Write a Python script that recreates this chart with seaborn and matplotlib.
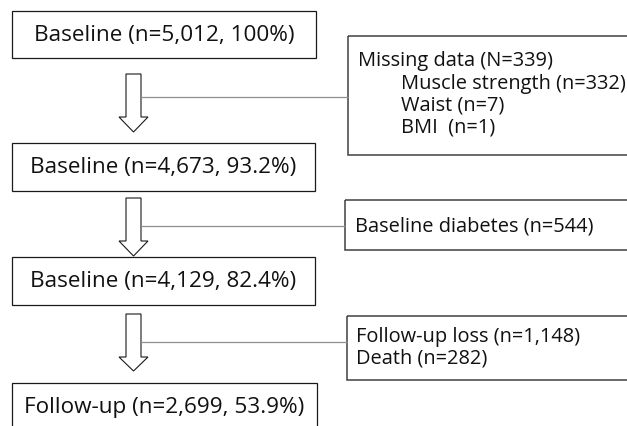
import matplotlib
matplotlib.use("Agg")
import matplotlib.pyplot as plt
from matplotlib.patches import Rectangle, Polygon
import seaborn as sns

# ---- data ----
stage_names = ["Baseline", "Baseline", "Baseline", "Follow-up"]
stage_n = ["5,012", "4,673", "4,129", "2,699"]
stage_pct = ["100%", "93.2%", "82.4%", "53.9%"]

missing_title = "Missing data (N=339)"
missing_items = ["Muscle strength (n=332)", "Waist (n=7)", "BMI  (n=1)"]
diabetes_text = ["Baseline diabetes (n=544)"]
followup_text = ["Follow-up loss (n=1,148)", "Death (n=282)"]

sns.set_theme(style="white")
plt.rcParams['font.family'] = ['Open Sans', 'DejaVu Sans']

W, H = 627, 427
fig = plt.figure(figsize=(W / 100, H / 100), dpi=100)
ax = fig.add_axes([0, 0, 1, 1])
ax.set_xlim(0, W)
ax.set_ylim(H, 0)
ax.axis("off")

main_font = 16.2
side_font = 14.4

# main boxes (left, top, right, bottom)
main_boxes = [(12, 12, 316, 59), (12, 144, 315, 192), (12, 258, 315, 306), (12, 384, 317, 431)]
for (l, t, r, b), nm, n, p in zip(main_boxes, stage_names, stage_n, stage_pct):
    ax.add_patch(Rectangle((l, t), r - l, b - t, fill=False, edgecolor="#1a1a1a", lw=0.9))
    ax.text((l + r) / 2, (t + b) / 2, f"{nm} (n={n}, {p})", ha="center", va="center",
            fontsize=main_font, color="#111111")

# arrows (top, shaft bottom, tip)
arrows = [(75, 118, 133), (199, 242, 257), (315, 358, 372)]
sx0, sx1, hx0, hx1 = 126, 141, 119, 148
cx = (hx0 + hx1) / 2
for top, sb, tip in arrows:
    pts = [(sx0, top), (sx1, top), (sx1, sb), (hx1, sb), (cx, tip), (hx0, sb), (sx0, sb)]
    ax.add_patch(Polygon(pts, closed=True, fill=False, edgecolor="#1a1a1a", lw=0.8))

# side boxes
side_boxes = [(348, 37, 640, 156), (345, 201, 640, 251), (347, 317, 640, 381)]
for (l, t, r, b) in side_boxes:
    ax.add_patch(Rectangle((l, t), r - l, b - t, fill=False, edgecolor="#404040", lw=1.1))

# connector lines
connect_y = [98, 227, 343]
for y, (l, t, r, b) in zip(connect_y, side_boxes):
    ax.plot([sx1, l], [y, y], color="#8f8f8f", lw=0.9, solid_capstyle="butt")

# side texts
ax.text(358, 61, missing_title, ha="left", va="center", fontsize=side_font, color="#111111")
for y, s in zip([84, 106, 128], missing_items):
    ax.text(401, y, s, ha="left", va="center", fontsize=side_font, color="#111111")
for y, s in zip([227], diabetes_text):
    ax.text(355, y, s, ha="left", va="center", fontsize=side_font, color="#111111")
for y, s in zip([337, 359], followup_text):
    ax.text(356, y, s, ha="left", va="center", fontsize=side_font, color="#111111")

fig.savefig("out.png", dpi=100, facecolor="white")
